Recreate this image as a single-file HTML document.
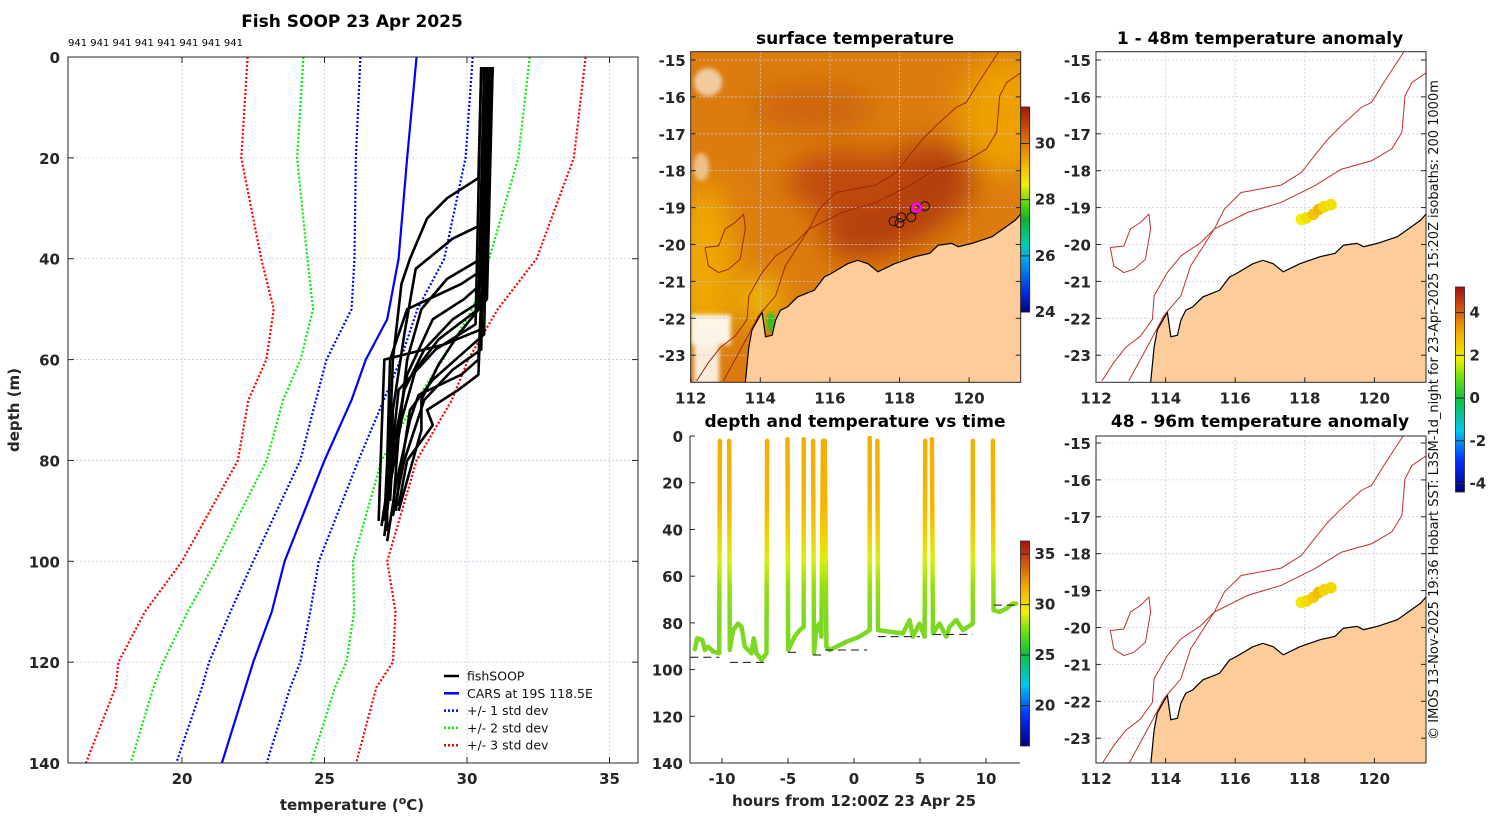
<!DOCTYPE html>
<html><head><meta charset="utf-8"><style>
body{margin:0;background:#fff}
svg{display:block;font-family:"DejaVu Sans","Liberation Sans",sans-serif}
.tk{font-size:15px;font-weight:bold;fill:#262626}
.ttl{font-size:17px;font-weight:bold;fill:#000}
</style></head><body>
<svg id="fig" width="1500" height="820" viewBox="0 0 1500 820">
<defs>
<linearGradient id="depthGrad" gradientUnits="userSpaceOnUse" x1="0" y1="436" x2="0" y2="763">
<stop offset="0" stop-color="#f5ae00"/><stop offset="0.2" stop-color="#f6b400"/><stop offset="0.3" stop-color="#f2d000"/><stop offset="0.38" stop-color="#d8ef10"/><stop offset="0.46" stop-color="#96e010"/><stop offset="0.55" stop-color="#7cd820"/><stop offset="1" stop-color="#7cd820"/>
</linearGradient>
<linearGradient id="jet" x1="0" y1="1" x2="0" y2="0">
<stop offset="0" stop-color="#00007f"/><stop offset="0.15" stop-color="#0030ff"/><stop offset="0.3" stop-color="#00c8f0"/><stop offset="0.45" stop-color="#10c040"/><stop offset="0.55" stop-color="#60e010"/><stop offset="0.65" stop-color="#f0f000"/><stop offset="0.78" stop-color="#f5a800"/><stop offset="0.9" stop-color="#d05010"/><stop offset="1" stop-color="#a01010"/>
</linearGradient>
<linearGradient id="sstbar" x1="0" y1="1" x2="0" y2="0">
<stop offset="0" stop-color="#00007f"/><stop offset="0.1" stop-color="#0030e0"/><stop offset="0.25" stop-color="#00a0f0"/><stop offset="0.33" stop-color="#00d0b0"/><stop offset="0.45" stop-color="#10b030"/><stop offset="0.52" stop-color="#50d010"/><stop offset="0.62" stop-color="#f0f000"/><stop offset="0.7" stop-color="#f5c000"/><stop offset="0.82" stop-color="#e07810"/><stop offset="1" stop-color="#a01808"/>
</linearGradient>
<filter id="blur" x="-20%" y="-20%" width="140%" height="140%"><feGaussianBlur stdDeviation="14"/></filter>
<filter id="blur2"><feGaussianBlur stdDeviation="2"/></filter>
<clipPath id="clipSST"><rect x="690.7" y="51.7" width="330" height="330.6"/></clipPath>
<clipPath id="clipA1"><rect x="1096" y="51.7" width="330" height="330.6"/></clipPath>
<clipPath id="clipA2"><rect x="1096" y="436" width="330" height="327"/></clipPath>
<clipPath id="clipL"><rect x="68" y="57" width="570" height="706"/></clipPath>
<clipPath id="clipD"><rect x="690" y="436" width="330" height="327"/></clipPath>
</defs>
<g id="left"></g>
<g id="sst"></g>
<g id="dt"></g>
<g id="a1"></g>
<g id="a2"></g>
<text x="1438" y="410" transform="rotate(-90 1438 410)" text-anchor="middle" font-size="13" fill="#111">© IMOS 13-Nov-2025 19:36 Hobart SST: L3SM-1d_night for 23-Apr-2025 15:20Z isobaths: 200  1000m</text>
</svg>
<script>
// ---------- profile chart data ----------
const carsDepth=[0,20,40,52,60,68,80,100,110,120,140];
const carsTemp=[28.23,27.9,27.6,27.2,26.45,25.95,25.0,23.6,23.15,22.5,21.4];
const sdDepth=[0,20,40,50,60,68,80,100,110,120,125,140];
const minus1=[26.26,26.1,26.05,25.95,25.07,24.7,24.15,22.5,21.7,20.95,20.7,19.8];
const plus1=[30.2,29.95,29.2,28.26,27.67,27.08,26.19,24.8,24.5,24.15,23.8,22.97];
const minus2=[24.26,24.04,24.4,24.6,24.16,23.55,22.97,21.18,20.2,19.34,19.0,18.2];
const plus2=[32.2,31.8,30.78,30.19,29.15,28.23,27.0,26.0,26.04,25.77,25.37,24.53];
const minus3=[22.3,22.08,22.78,23.22,22.96,22.33,21.96,20.0,18.7,17.77,17.67,16.63];
const plus3=[34.16,33.75,32.44,31.08,30.04,29.47,28.23,27.2,27.49,27.4,26.82,26.11];
const fishProfiles=[
[[2,30.5],[24,30.4],[28,29.3],[32,28.6],[40,28.0],[45,27.7],[60,27.4],[75,27.3],[90,27.2],[94,27.2]],
[[2,30.7],[33,30.6],[36,29.5],[42,28.2],[55,27.8],[70,27.4],[88,27.3]],
[[2,30.8],[40,30.5],[44,29.3],[50,28.4],[60,27.9],[75,27.6],[90,27.4]],
[[2,30.9],[48,30.6],[52,29.5],[58,28.5],[66,27.8],[80,27.4],[92,27.1]],
[[2,30.6],[50,30.4],[56,29.0],[62,28.2],[72,27.7],[85,27.3],[95,27.1]],
[[2,30.8],[55,30.6],[60,29.6],[64,28.8],[70,28.0],[85,27.6],[90,27.5]],
[[2,30.7],[58,30.5],[62,29.5],[68,28.5],[80,27.8],[91,27.4]],
[[2,30.9],[60,30.4],[63,29.8],[67,28.3],[72,28.0],[85,27.5],[96,27.2]],
[[2,30.5],[53,30.3],[58,28.9],[66,27.6],[82,27.3],[93,27.0]],
[[2,30.6],[45,30.5],[48,29.9],[52,28.8],[63,27.9],[78,27.4],[88,27.3]],
[[2,30.8],[63,30.4],[66,29.7],[70,28.6],[73,28.8],[80,27.9],[89,27.6]],
[[2,30.7],[42,30.6],[45,29.8],[50,27.9],[60,27.3],[80,27.2],[92,27.1]],
[[2,30.6],[54,30.5],[57,29.2],[60,27.1],[75,27.0],[92,26.9]],
[[2,30.9],[48,30.7],[55,29.7],[61,29.0],[68,28.4],[74,28.4],[86,27.8],[90,27.6]]
];
const tempTicks=[20,25,30,35];
const depthTicks=[0,20,40,60,80,100,120,140];
// ---------- depth-time data ----------
const dives=[
[[-12.06,91.3],[-11.88,86.6],[-11.48,87.4],[-11.3,91.6],[-11.05,90.2],[-10.67,92.3],[-10.21,93.0],[-10.16,2.1]],
[[-9.46,2.1],[-9.41,91.6],[-9.16,83.1],[-8.78,80.3],[-8.52,81.7],[-8.27,90.2],[-7.77,93.0],[-7.59,86.6],[-7.39,93.0],[-7.01,95.9],[-6.63,93.0],[-6.58,2.1]],
[[-5.04,1.4],[-4.99,91.6],[-4.49,85.9],[-4.11,83.1],[-3.81,81.7],[-3.81,1.4]],
[[-3.10,2.1],[-3.03,93.0],[-2.85,81.7],[-2.60,80.3],[-2.47,85.9],[-2.35,2.1]],
[[-2.22,2.1],[-2.09,90.2],[-1.84,91.6],[-1.34,90.2],[-0.58,88.1],[0.43,85.9],[1.19,83.1],[1.19,0.7]],
[[1.77,2.1],[1.82,83.1],[2.70,83.8],[3.71,84.5],[4.21,78.8],[4.46,85.9],[4.97,80.3],[5.35,85.9],[5.40,2.1]],
[[5.90,1.4],[5.98,84.5],[6.48,80.3],[6.99,85.9],[7.24,81.7],[7.74,78.8],[8.25,83.1],[9.00,80.3],[9.00,2.1]],
[[10.52,2.1],[10.57,74.6],[11.02,75.3],[11.53,73.9],[12.03,71.7],[12.28,71.7]]
];
const bottomStart=[-12.4,-9.4,-5.0,-3.1,-2.2,1.8,6.0,10.6];
const bottomEnd=[-10.2,-6.6,-4.2,-2.3,1.0,5.0,9.0,12.6];
const bottomDepth=[94.7,96.9,92.6,93.75,91.6,85.9,84.9,72.4];
const hourTicks=[-10,-5,0,5,10];
// ---------- map data ----------
const coastLon=[113.57,113.67,113.76,114.05,114.15,114.34,114.44,114.58,114.78,115.07,115.55,115.84,116.03,116.51,116.80,117.09,117.38,117.86,118.44,118.87,119.11,119.50,119.69,120.08,120.66,121.33,121.6,121.6];
const coastLat=[-23.74,-22.78,-22.32,-21.83,-22.50,-22.46,-22.05,-21.78,-21.69,-21.42,-21.24,-20.88,-20.79,-20.52,-20.43,-20.52,-20.74,-20.52,-20.33,-20.24,-20.02,-19.97,-20.06,-19.97,-19.79,-19.34,-19.05,-23.8];
const iso1000Lon=[112.17,112.51,112.85,113.28,113.62,113.67,114.05,114.44,115.01,115.40,115.69,116.17,117.32,117.90,118.28,118.67,119.05,119.63,119.92,120.21,120.59,120.84];
const iso1000Lat=[-23.70,-23.20,-22.79,-22.48,-22.03,-21.39,-20.76,-20.31,-19.95,-19.58,-19.04,-18.59,-18.39,-18.05,-17.59,-17.14,-16.78,-16.28,-16.15,-15.70,-15.15,-14.79];
const iso200Lon=[112.94,113.28,113.67,113.95,114.44,114.72,115.40,116.36,117.32,118.28,119.05,119.92,120.50,120.79,120.88,121.08,121.51];
const iso200Lat=[-23.70,-23.11,-22.43,-21.93,-21.39,-20.58,-19.58,-19.13,-18.86,-18.41,-17.96,-17.73,-17.41,-16.96,-15.97,-15.61,-15.33];
const bankLon=[112.41,112.80,112.99,113.28,113.52,113.57,113.42,113.09,112.80,112.51,112.41];
const bankLat=[-20.08,-20.04,-19.58,-19.40,-19.18,-19.58,-20.40,-20.67,-20.76,-20.58,-20.08];
const trackLon=[117.83,118.00,118.05,118.34,118.44,118.73];
const trackLat=[-19.37,-19.42,-19.26,-19.26,-19.04,-18.96];
const shipLon=118.49, shipLat=-19.00;
const anomLon=[117.9,118.05,118.25,118.4,118.55,118.75];
const anomLat=[-19.32,-19.28,-19.18,-19.05,-18.98,-18.92];
const anomVal1=[2.0,2.3,2.8,3.0,2.4,2.3];
const anomVal2=[2.1,2.4,2.7,2.9,2.5,2.4];
const lonTicks=[112,114,116,118,120];
const latTicks=[-15,-16,-17,-18,-19,-20,-21,-22,-23];
const sstTicks=[24,26,28,30];
const dtBarTicks=[20,25,30,35];
const anomTicks=[-4,-2,0,2,4];

const NS='http://www.w3.org/2000/svg';
function mk(parent,tag,attrs,text){const e=document.createElementNS(NS,tag);for(const k in attrs)e.setAttribute(k,attrs[k]);if(text!==undefined)e.textContent=text;parent.appendChild(e);return e;}

// ================= LEFT PROFILE CHART =================
const L=document.getElementById('left');
const X=t=>68+(t-16)*28.5, Y=d=>57+d*5.043;
const gridL=mk(L,'g',{});


tempTicks.forEach(t=>{mk(gridL,'line',{x1:X(t),x2:X(t),y1:57,y2:763,stroke:'#c8cbea','stroke-width':0.8,'stroke-dasharray':'2 2'});});
depthTicks.forEach(d=>{mk(gridL,'line',{x1:68,x2:638,y1:Y(d),y2:Y(d),stroke:'#c8cbea','stroke-width':0.8,'stroke-dasharray':'2 2'});});
const plotL=mk(L,'g',{'clip-path':'url(#clipL)'});
function prof(temps,color,dash,w,name){
  const p=mk(plotL,'polyline',{points:sdDepth.slice(0,temps.length).map((d,i)=>X(temps[i])+','+Y(d)).join(' '),fill:'none',stroke:color,'stroke-width':w,'stroke-dasharray':dash});
  
  
}
prof(minus3,'#ff0000','2 2',2.2,'minus-3-std-line');
prof(plus3,'#ff0000','2 2',2.2,'plus-3-std-line');
prof(minus2,'#00ee00','2 2',2.2,'minus-2-std-line');
prof(plus2,'#00ee00','2 2',2.2,'plus-2-std-line');
prof(minus1,'#0000ff','2 2',2.2,'minus-1-std-line');
prof(plus1,'#0000ff','2 2',2.2,'plus-1-std-line');
const cars=mk(plotL,'polyline',{points:carsDepth.map((d,i)=>X(carsTemp[i])+','+Y(d)).join(' '),fill:'none',stroke:'#0000ff','stroke-width':2.2});


fishProfiles.forEach(pr=>{
  const p=mk(plotL,'polyline',{points:pr.map(q=>X(q[1])+','+Y(q[0])).join(' '),fill:'none',stroke:'#000','stroke-width':2.6,'stroke-linejoin':'round'});
  
  
});
mk(L,'rect',{x:68,y:57,width:570,height:706,fill:'none',stroke:'#262626','stroke-width':1});
tempTicks.forEach(t=>{
  mk(L,'line',{x1:X(t),x2:X(t),y1:763,y2:757,stroke:'#262626'});mk(L,'line',{x1:X(t),x2:X(t),y1:57,y2:63,stroke:'#262626'});
  const tx=mk(L,'text',{x:X(t),y:784,'text-anchor':'middle',class:'tk'},String(t));
  
  
});
depthTicks.forEach(d=>{
  mk(L,'line',{x1:68,x2:74,y1:Y(d),y2:Y(d),stroke:'#262626'});mk(L,'line',{x1:632,x2:638,y1:Y(d),y2:Y(d),stroke:'#262626'});
  const tx=mk(L,'text',{x:60,y:Y(d)+6,'text-anchor':'end',class:'tk'},String(d));
  
  
});
const t1=mk(L,'text',{x:352,y:27,'text-anchor':'middle',class:'ttl'},'Fish SOOP 23 Apr 2025');


const cnt=mk(L,'text',{x:68,y:46,'font-size':'10',fill:'#000'},'941 941 941 941 941 941 941 941');


const yl=mk(L,'text',{x:19,y:410,transform:'rotate(-90 19 410)','text-anchor':'middle',class:'tk','font-size':'16'},'depth (m)');


const xl=mk(L,'text',{x:352,y:810,'text-anchor':'middle',class:'tk','font-size':'16'});


xl.innerHTML='temperature (<tspan dy="-6" font-size="11">o</tspan><tspan dy="6">C)</tspan>';
const legItems=[['fishSOOP','#000',''],['CARS at 19S 118.5E','#0000ff',''],['+/- 1 std dev','#0000ff','2 2'],['+/- 2 std dev','#00ee00','2 2'],['+/- 3 std dev','#ff0000','2 2']];
const leg=mk(L,'g',{});


legItems.forEach((it,i)=>{
  const yy=676+i*17.3;
  const g=mk(leg,'g',{});
  
  
  mk(g,'line',{x1:444,x2:459,y1:yy,y2:yy,stroke:it[1],'stroke-width':2.5,'stroke-dasharray':it[2]});
  mk(g,'text',{x:467,y:yy+4.5,'font-size':'12.5',fill:'#111'},it[0]);
});

// ================= MAP HELPERS =================
function proj(x0,y0){return [lon=>x0+(lon-112)*34.8, lat=>y0+(-15-lat)*36.9];}
function drawMapBase(G,x0,y0,yTop,h,clip,isSST){
  const [MX,MY]=proj(x0,y0);
  const inner=mk(G,'g',{'clip-path':'url(#'+clip+')'});
  if(isSST){
    mk(inner,'rect',{x:x0,y:yTop,width:330,height:h,fill:'#dc7c0e'});
    const b=mk(inner,'g',{filter:'url(#blur)'});
    mk(b,'ellipse',{cx:MX(112.4),cy:MY(-20.5),rx:30,ry:80,fill:'#eea800'});
    mk(b,'ellipse',{cx:MX(121),cy:MY(-16.5),rx:45,ry:60,fill:'#eea000'});
    mk(b,'ellipse',{cx:MX(118),cy:MY(-18.8),rx:85,ry:45,fill:'#b4400c',transform:'rotate(-30 '+MX(118)+' '+MY(-18.8)+')'});
    mk(b,'ellipse',{cx:MX(116.5),cy:MY(-18.3),rx:60,ry:30,fill:'#bf4a0c'});
    mk(b,'ellipse',{cx:MX(115.5),cy:MY(-16.3),rx:60,ry:22,fill:'#cc640f'});
    mk(b,'ellipse',{cx:MX(114),cy:MY(-21.5),rx:20,ry:25,fill:'#f0bc00'});
    const w=mk(inner,'g',{filter:'url(#blur2)'});
    mk(w,'rect',{x:MX(112),y:MY(-21.9),width:40,height:30,fill:'#fff','opacity':0.9});
    mk(w,'rect',{x:MX(112.1),y:MY(-22.7),width:25,height:40,fill:'#fff','opacity':0.85});
    mk(w,'ellipse',{cx:MX(112.5),cy:MY(-15.6),rx:14,ry:14,fill:'#fff','opacity':0.6});
    mk(w,'ellipse',{cx:MX(112.3),cy:MY(-17.9),rx:8,ry:14,fill:'#fff','opacity':0.5});
    mk(w,'ellipse',{cx:MX(114.3),cy:MY(-22.1),rx:4,ry:10,fill:'#20c020'});
  } else {
    mk(inner,'rect',{x:x0,y:yTop,width:330,height:h,fill:'#fff'});
  }
  lonTicks.forEach(l=>mk(inner,'line',{x1:MX(l),x2:MX(l),y1:yTop,y2:yTop+h,stroke:'#c8cbea','stroke-width':0.8,'stroke-dasharray':'2 2'}));
  latTicks.forEach(l=>mk(inner,'line',{x1:x0,x2:x0+330,y1:MY(l),y2:MY(l),stroke:'#c8cbea','stroke-width':0.8,'stroke-dasharray':'2 2'}));
  const land=mk(inner,'polygon',{points:coastLon.map((l,i)=>MX(l)+','+MY(coastLat[i])).join(' '),fill:'#fccd9a',stroke:'#000','stroke-width':1.2});
  
  
  [[iso1000Lon,iso1000Lat,'isobath-1000m'],[iso200Lon,iso200Lat,'isobath-200m'],[bankLon,bankLat,'bank-contour']].forEach(a=>{
    const p=mk(inner,'polyline',{points:a[0].map((l,i)=>MX(l)+','+MY(a[1][i])).join(' '),fill:'none',stroke:isSST?'#9a2a08':'#c03030','stroke-width':1});
    
    
  });
  mk(G,'rect',{x:x0,y:yTop,width:330,height:h,fill:'none',stroke:'#262626'});
  lonTicks.forEach(l=>{mk(G,'line',{x1:MX(l),x2:MX(l),y1:yTop+h,y2:yTop+h-5,stroke:'#262626'});
    const t=mk(G,'text',{x:MX(l),y:yTop+h+21,'text-anchor':'middle',class:'tk'},String(l));
    
    });
  latTicks.forEach(l=>{mk(G,'line',{x1:x0,x2:x0+5,y1:MY(l),y2:MY(l),stroke:'#262626'});mk(G,'line',{x1:x0+325,x2:x0+330,y1:MY(l),y2:MY(l),stroke:'#262626'});
    const t=mk(G,'text',{x:x0-5,y:MY(l)+6,'text-anchor':'end',class:'tk'},String(l));
    
    });
  return [MX,MY,inner];
}

// ================= SST MAP =================
const S=document.getElementById('sst');
const [SX,SY,Sin]=drawMapBase(S,690.7,60,51.7,330.6,'clipSST',true);
trackLon.forEach((l,i)=>{const c=mk(Sin,'circle',{cx:SX(l),cy:SY(trackLat[i]),r:4.5,fill:'none',stroke:'#111','stroke-width':1});
  
  });
const ship=mk(Sin,'circle',{cx:SX(shipLon),cy:SY(shipLat),r:4,fill:'none',stroke:'#ff00ff','stroke-width':2.5});


const st=mk(S,'text',{x:855,y:44,'text-anchor':'middle',class:'ttl'},'surface temperature');


function colorbar(G,x,y0,y1,vmin,vmax,ticks,grad,name){
  const cb=mk(G,'g',{});
  
  
  mk(cb,'rect',{x:x,y:y0,width:9,height:y1-y0,fill:'url(#'+grad+')',stroke:'#262626','stroke-width':0.8});
  ticks.forEach(t=>{const yy=y1-(t-vmin)/(vmax-vmin)*(y1-y0);
    mk(cb,'line',{x1:x,x2:x+9,y1:yy,y2:yy,stroke:'#262626'});
    mk(cb,'text',{x:x+14,y:yy+5,class:'tk','font-size':'13'},String(t));});
}
colorbar(S,1020.7,107,312,24,31.3,sstTicks,'sstbar','sst-colorbar');

// ================= DEPTH-TIME CHART =================
const D=document.getElementById('dt');
const TX=h=>854+h*13.2, DY=d=>436+d*2.336;
const din=mk(D,'g',{'clip-path':'url(#clipD)'});
dives.forEach(dv=>{
  const p=mk(din,'polyline',{points:dv.map(q=>TX(q[0])+','+DY(q[1])).join(' '),fill:'none',stroke:'url(#depthGrad)','stroke-width':4.5,'stroke-linejoin':'round','stroke-linecap':'round'});
  
  
});
bottomDepth.forEach((d,i)=>{
  const l=mk(din,'line',{x1:TX(bottomStart[i]),x2:TX(bottomEnd[i]),y1:DY(d),y2:DY(d),stroke:'#111','stroke-width':1,'stroke-dasharray':'8 5'});
  
  
});
mk(D,'line',{x1:690,x2:690,y1:436,y2:763,stroke:'#262626'});
mk(D,'line',{x1:690,x2:1020,y1:763,y2:763,stroke:'#262626'});
hourTicks.forEach(h=>{mk(D,'line',{x1:TX(h),x2:TX(h),y1:763,y2:758,stroke:'#262626'});
  const t=mk(D,'text',{x:TX(h),y:784,'text-anchor':'middle',class:'tk'},String(h));
  
  });
depthTicks.forEach(d=>{mk(D,'line',{x1:690,x2:695,y1:DY(d),y2:DY(d),stroke:'#262626'});
  const t=mk(D,'text',{x:683,y:DY(d)+6,'text-anchor':'end',class:'tk'},String(d));
  
  });
const dtt=mk(D,'text',{x:855,y:427,'text-anchor':'middle',class:'ttl'},'depth and temperature vs time');


const dxl=mk(D,'text',{x:854,y:806,'text-anchor':'middle',class:'tk','font-size':'16'},'hours from 12:00Z 23 Apr 25');


colorbar(D,1020.5,541,746,16,36.3,dtBarTicks,'jet','depth-time-colorbar');

// ================= ANOMALY MAPS =================
function anomColor(v){const f=Math.max(0,Math.min(1,(v+4.5)/10));
  const stops=[[0,[0,0,127]],[0.15,[0,48,255]],[0.3,[0,200,240]],[0.45,[16,192,64]],[0.55,[96,224,16]],[0.65,[240,240,0]],[0.78,[245,168,0]],[0.9,[208,80,16]],[1,[160,16,16]]];
  for(let i=1;i<stops.length;i++){if(f<=stops[i][0]){const a=stops[i-1],b=stops[i],r=(f-a[0])/(b[0]-a[0]);return 'rgb('+a[1].map((c,k)=>Math.round(c+(b[1][k]-c)*r)).join(',')+')';}}
  return 'rgb(160,16,16)';}
[['a1',60,51.7,330.6,'clipA1',anomVal1,'1 - 48m temperature anomaly',44],['a2',443,436,327,'clipA2',anomVal2,'48 - 96m temperature anomaly',427]].forEach(cfg=>{
  const G=document.getElementById(cfg[0]);
  const [AX,AY,Ain]=drawMapBase(G,1096,cfg[1],cfg[2],cfg[3],cfg[4],false);
  anomLon.forEach((l,i)=>{const c=mk(Ain,'circle',{cx:AX(l),cy:AY(anomLat[i]),r:5.8,fill:anomColor(cfg[5][i])});
    
    });
  const t=mk(G,'text',{x:1260,y:cfg[7],'text-anchor':'middle',class:'ttl'},cfg[6]);
  
  
});
colorbar(document.getElementById('a1'),1455.5,287,492,-4.4,5.2,anomTicks,'jet','anomaly-colorbar');
</script>
</body></html>
